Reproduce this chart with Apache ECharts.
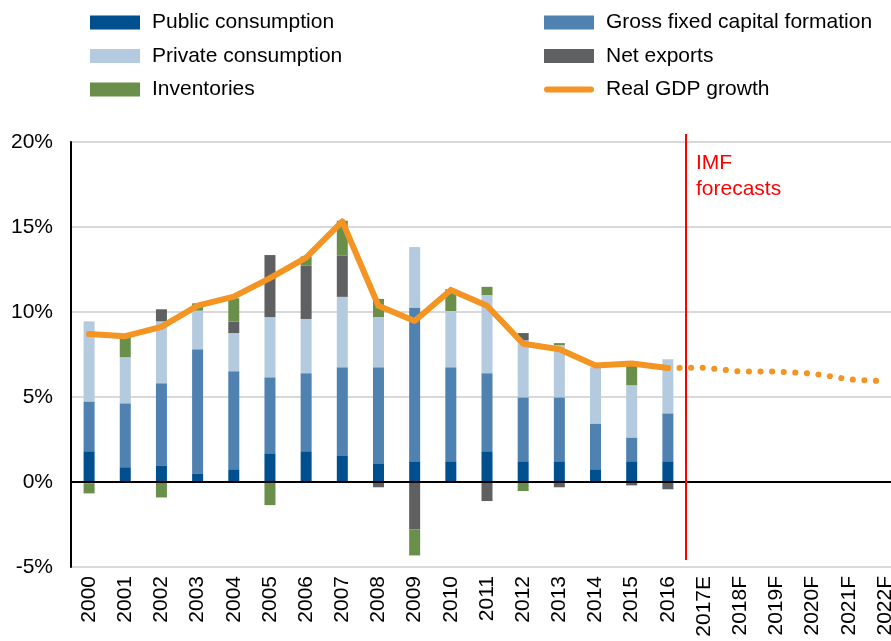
<!DOCTYPE html>
<html>
<head>
<meta charset="utf-8">
<script src="https://cdn.jsdelivr.net/npm/echarts@6/dist/echarts.min.js"></script>
<style>
  html, body { margin: 0; padding: 0; background: #fff; overflow: hidden; }
  /* plot area runs slightly past the right edge of the window, as in the original */
  #chart { width: 903px; height: 641px; }
</style>
</head>
<body>
<div id="chart"></div>
<script>
const years = ['2000', '2001', '2002', '2003', '2004', '2005', '2006', '2007', '2008', '2009', '2010',
  '2011', '2012', '2013', '2014', '2015', '2016', '2017E', '2018F', '2019F', '2020F', '2021F', '2022F']

const publicConsumption = [1.81, 0.87, 0.98, 0.51, 0.75, 1.69, 1.81, 1.57, 1.10, 1.22, 1.22, 1.81, 1.22, 1.22, 0.75, 1.22, 1.22]
const grossFixedCapital = [2.93, 3.76, 4.83, 7.30, 5.77, 4.47, 4.59, 5.18, 5.65, 9.04, 5.53, 4.59, 3.76, 3.76, 2.69, 1.40, 2.82]
const privateConsumption = [4.71, 2.71, 3.64, 2.27, 2.24, 3.54, 3.19, 4.14, 2.95, 3.56, 3.31, 4.60, 3.35, 3.07, 3.31, 3.07, 3.18]
const netExports = [-0.08, 0, 0.71, 0, 0.67, 3.65, 3.15, 2.44, -0.31, -2.78, 0, -1.12, 0.43, -0.31, 0, -0.2, -0.43]
const inventories = [-0.59, 1.2, -0.91, 0.43, 1.38, -1.36, 0.53, 2.04, 1.07, -1.54, 1.28, 0.48, -0.53, 0.12, 0, 1.40, 0]
const gdpGrowth = [8.70, 8.58, 9.13, 10.37, 10.9, 11.99, 13.2, 15.33, 10.37, 9.47, 11.3, 10.37, 8.13, 7.81, 6.85, 6.97, 6.71]
const gdpForecast = [null, null, null, null, null, null, null, null, null, null, null, null, null, null, null, null,
  6.71, 6.72, 6.5, 6.5, 6.38, 6.04, 5.92]

const yTicks = { min: -5, max: 20, interval: 5 }

const font = '"Liberation Sans", Arial, sans-serif'
const colors = {
  public: '#004F8F',
  gfcf: '#4F81B1',
  private: '#B4CBDF',
  net: '#5F6062',
  inv: '#6A8F4B',
  gdp: '#F39423',
}

const chart = echarts.init(document.getElementById('chart'))

function barSeries(name, data, color) {
  return {
    name,
    type: 'bar',
    stack: 'gdp',
    barWidth: 11,
    itemStyle: { color },
    data,
  }
}

const legendText = {
  color: '#000',
  fontSize: 21,
  fontFamily: font,
  padding: [0, 0, 0, 7],
}

const option = {
  animation: false,
  textStyle: { fontFamily: font },
  legend: [
    {
      orient: 'vertical',
      left: 90,
      top: 12,
      padding: 0,
      itemWidth: 50,
      itemHeight: 14,
      itemGap: 12.5,
      icon: 'rect',
      textStyle: legendText,
      data: ['Public consumption', 'Private consumption', 'Inventories'],
    },
    {
      orient: 'vertical',
      left: 544,
      top: 12,
      padding: 0,
      itemWidth: 50,
      itemHeight: 14,
      itemGap: 12.5,
      textStyle: legendText,
      data: [
        { name: 'Gross fixed capital formation', icon: 'rect' },
        { name: 'Net exports', icon: 'rect' },
        { name: 'Real GDP growth', icon: 'path://M3,0 L47,0 A3,3 0 0 1 47,6 L3,6 A3,3 0 0 1 3,0 Z' },
      ],
    },
  ],
  grid: {
    left: 71,
    top: 142,
    right: 0,
    bottom: 74,
  },
  xAxis: {
    type: 'category',
    data: years,
    axisLine: { show: false },
    axisTick: { show: false },
    axisLabel: {
      rotate: 90,
      interval: 0,
      margin: 9,
      color: '#000',
      fontSize: 21,
      fontFamily: font,
    },
  },
  yAxis: {
    type: 'value',
    min: yTicks.min,
    max: yTicks.max,
    interval: yTicks.interval,
    axisLine: { show: true, lineStyle: { color: '#000', width: 2 } },
    axisTick: { show: false },
    axisLabel: {
      formatter: '{value}%',
      margin: 18,
      color: '#000',
      fontSize: 21,
      fontFamily: font,
    },
    splitLine: { lineStyle: { color: '#D9D9D9', width: 2 } },
  },
  series: [
    Object.assign(barSeries('Public consumption', publicConsumption, colors.public), {
      markLine: {
        silent: true,
        symbol: 'none',
        label: { show: false },
        lineStyle: { color: '#000', width: 2, type: 'solid' },
        data: [{ yAxis: 0 }],
      },
    }),
    barSeries('Gross fixed capital formation', grossFixedCapital, colors.gfcf),
    barSeries('Private consumption', privateConsumption, colors.private),
    barSeries('Net exports', netExports, colors.net),
    barSeries('Inventories', inventories, colors.inv),
    {
      name: 'Real GDP growth',
      type: 'line',
      symbol: 'none',
      z: 5,
      itemStyle: { color: colors.gdp },
      lineStyle: { color: colors.gdp, width: 6, cap: 'round', join: 'round' },
      data: gdpGrowth,
    },
    {
      name: 'forecast',
      type: 'line',
      symbol: 'none',
      z: 5,
      lineStyle: { color: colors.gdp, width: 6, type: [0.1, 11.5], cap: 'round' },
      data: gdpForecast,
    },
  ],
}

chart.setOption(option)

// red separator between actuals and IMF forecasts
const p16 = chart.convertToPixel({ xAxisIndex: 0 }, '2016')
const p17 = chart.convertToPixel({ xAxisIndex: 0 }, '2017E')
const sepX = Math.round((p16 + p17) / 2)
const yTop = chart.convertToPixel({ yAxisIndex: 0 }, yTicks.max)
const yBottom = chart.convertToPixel({ yAxisIndex: 0 }, yTicks.min)

chart.setOption({
  graphic: [
    {
      type: 'line',
      shape: { x1: sepX, y1: yTop - 8, x2: sepX, y2: yBottom - 7 },
      style: { stroke: '#FF0000', lineWidth: 2 },
      z: 10,
    },
    {
      type: 'text',
      left: sepX + 10,
      top: yTop + 8,
      style: {
        text: 'IMF\nforecasts',
        fill: '#FF0000',
        font: '21px ' + font,
        lineHeight: 26,
      },
      z: 10,
    },
  ],
})
</script>
</body>
</html>
